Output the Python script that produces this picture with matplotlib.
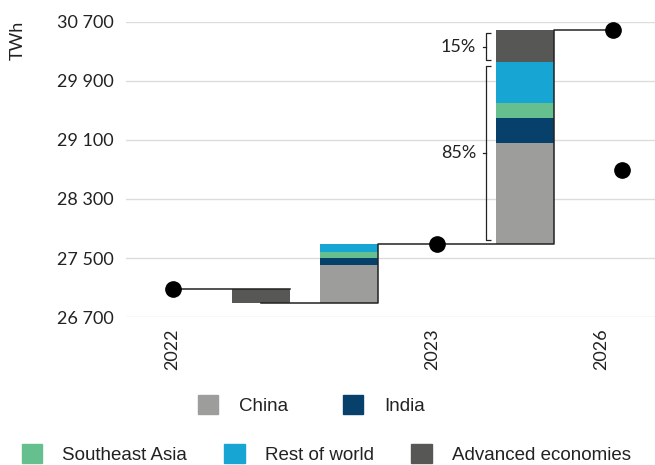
import matplotlib
matplotlib.use("Agg")
import matplotlib.pyplot as plt
from matplotlib.patches import Patch

# Electricity demand, TWh
total_2022 = 27080
adv_change_22_23 = -190
emerging_22_23 = {"China": 510, "India": 105, "Southeast Asia": 70, "Rest of world": 115}
growth_23_26 = {"China": 1370, "India": 340, "Southeast Asia": 205,
                "Rest of world": 550, "Advanced economies": 435}
alt_2026 = 28690

year_labels = ["2022", "2023", "2026"]
y_ticks = [26700, 27500, 28300, 29100, 29900, 30700]
series = ["China", "India", "Southeast Asia", "Rest of world", "Advanced economies"]
colors = {"China": "#9d9d9c", "India": "#07406b", "Southeast Asia": "#66bf8f",
          "Rest of world": "#17a6d3", "Advanced economies": "#575756"}

total_2023 = total_2022 + adv_change_22_23 + sum(emerging_22_23.values())
total_2026 = total_2023 + sum(growth_23_26.values())

plt.rcParams["font.family"] = ["Lato", "DejaVu Sans"]

fig = plt.figure(figsize=(6.55, 4.65), dpi=100)
ax = fig.add_axes([126 / 655, 1 - 317 / 465, 1 - 126 / 655, (317 - 22) / 465])

w = 0.66
h = w / 2
line_kw = dict(color="#222222", lw=1.1, zorder=4)

# 2022 -> advanced economies decline
ax.bar(1, -adv_change_22_23, bottom=total_2022 + adv_change_22_23, width=w,
       color=colors["Advanced economies"], zorder=2)
base = total_2022 + adv_change_22_23
for name, val in emerging_22_23.items():
    ax.bar(2, val, bottom=base, width=w, color=colors[name], zorder=2)
    base += val

# 2023 -> 2026 growth
base = total_2023
for name in series:
    val = growth_23_26[name]
    ax.bar(4, val, bottom=base, width=w, color=colors[name], zorder=2)
    base += val

# connector lines
ax.plot([0, 1 + h], [total_2022, total_2022], **line_kw)
low = total_2022 + adv_change_22_23
ax.plot([1, 2 + h, 2 + h, 3], [low, low, total_2023, total_2023], **line_kw)
ax.plot([3, 4 + h, 4 + h, 5], [total_2023, total_2023, total_2026, total_2026], **line_kw)

# totals
ax.plot([0, 3, 5], [total_2022, total_2023, total_2026], "o", color="black",
        ms=11, zorder=5)
ax.plot([5.11], [alt_2026], "o", color="black", ms=11, zorder=5)

# share brackets
growth_total = total_2026 - total_2023
adv = growth_23_26["Advanced economies"]
emerging = growth_total - adv
bx = 3.565


def bracket(y0, y1, label):
    ym = (y0 + y1) / 2
    ax.plot([bx + 0.05, bx, bx, bx + 0.05], [y0, y0, y1, y1], color="#222222",
            lw=0.9, zorder=4, solid_capstyle="butt")
    ax.plot([bx, bx - 0.04], [ym, ym], color="#222222", lw=0.9, zorder=4)
    ax.text(bx - 0.12, ym, label, ha="right", va="center", fontsize=13,
            color="#222222")


bracket(total_2023 + 55, total_2023 + emerging - 55,
        f"{round(100 * emerging / growth_total)}%")
bracket(total_2023 + emerging + 30, total_2026 - 40,
        f"{round(100 * adv / growth_total)}%")

ax.set_xlim(-0.53, 5.48)
ax.set_ylim(26700, 30700)
ax.set_yticks(y_ticks)
ax.set_yticklabels([f"{v:,}".replace(",", " ") for v in y_ticks])
ax.set_xticks([0, 2.95, 4.87])
ax.set_xticklabels(year_labels, rotation=90)
ax.tick_params(axis="both", length=0, labelsize=13, colors="#222222")
ax.tick_params(axis="y", pad=9)
ax.tick_params(axis="x", pad=8)
ax.grid(axis="y", color="#dcdcdc", lw=1, zorder=0)
ax.set_axisbelow(True)
for s in ax.spines.values():
    s.set_visible(False)
for artist in ax.lines:
    artist.set_clip_on(False)

fig.text(18 / 655, 1 - 40 / 465, "TWh", rotation=90, ha="center", va="center",
         fontsize=13, color="#222222")

leg_font = {"family": ["Liberation Sans", "DejaVu Sans"], "size": 13.5}
row1 = ["China", "India"]
row2 = ["Southeast Asia", "Rest of world", "Advanced economies"]
leg1 = fig.legend([Patch(color=colors[n]) for n in row1], row1, loc="center",
                  bbox_to_anchor=(0.475, 1 - 405 / 465), ncol=2, frameon=False,
                  prop=leg_font, handlelength=1.1, handleheight=1.15,
                  handletextpad=1.1, columnspacing=2.9)
leg2 = fig.legend([Patch(color=colors[n]) for n in row2], row2, loc="center",
                  bbox_to_anchor=(0.498, 1 - 454 / 465), ncol=3, frameon=False,
                  prop=leg_font, handlelength=1.1, handleheight=1.15,
                  handletextpad=1.05, columnspacing=2.0)
for leg in (leg1, leg2):
    for t in leg.get_texts():
        t.set_color("#222222")

fig.savefig("out.png", dpi=100)
